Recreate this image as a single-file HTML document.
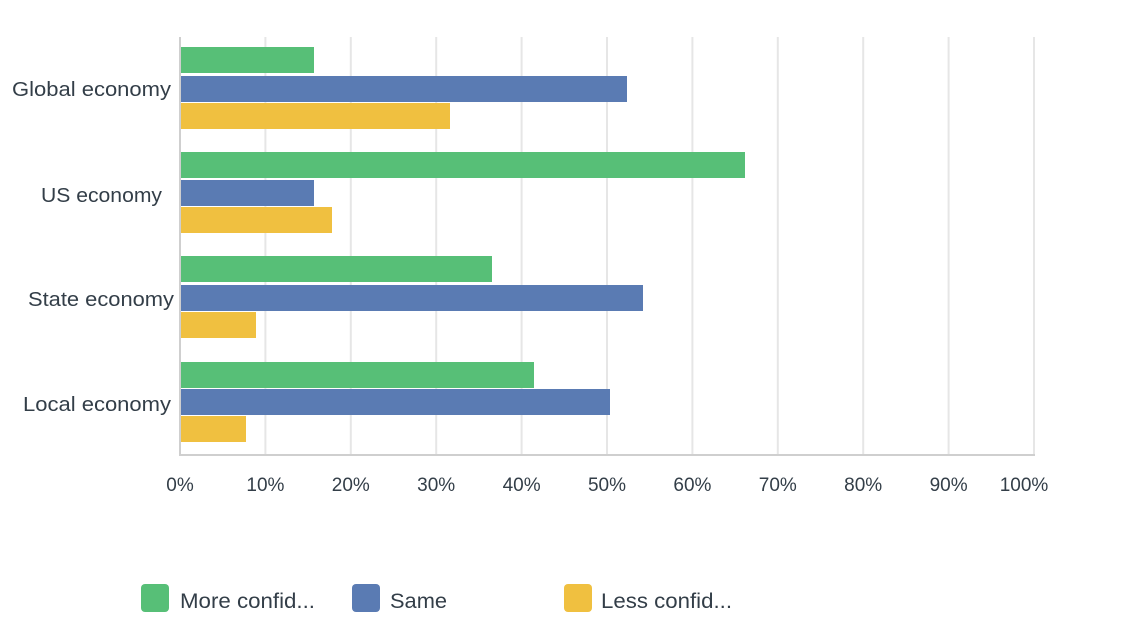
<!DOCTYPE html>
<html><head><style>
body{margin:0;background:#fff;}
svg text{font-family:"Liberation Sans",sans-serif;fill:#333e48;}
</style></head><body>
<svg width="1128" height="636" xmlns="http://www.w3.org/2000/svg">
<g stroke="#e6e6e6" stroke-width="2">
<line x1="265.4" y1="37" x2="265.4" y2="455"/><line x1="350.8" y1="37" x2="350.8" y2="455"/><line x1="436.2" y1="37" x2="436.2" y2="455"/><line x1="521.6" y1="37" x2="521.6" y2="455"/><line x1="607" y1="37" x2="607" y2="455"/><line x1="692.4" y1="37" x2="692.4" y2="455"/><line x1="777.8" y1="37" x2="777.8" y2="455"/><line x1="863.2" y1="37" x2="863.2" y2="455"/><line x1="948.6" y1="37" x2="948.6" y2="455"/><line x1="1034" y1="37" x2="1034" y2="455"/>
</g>
<g>
<rect x="180" y="47" width="134" height="26" fill="#57bf77"/>
<rect x="180" y="76" width="447" height="26" fill="#5a7bb3"/>
<rect x="180" y="103" width="270" height="26" fill="#f0c040"/>
<rect x="180" y="152" width="565" height="26" fill="#57bf77"/>
<rect x="180" y="180" width="134" height="26" fill="#5a7bb3"/>
<rect x="180" y="207" width="152" height="26" fill="#f0c040"/>
<rect x="180" y="256" width="312" height="26" fill="#57bf77"/>
<rect x="180" y="285" width="463" height="26" fill="#5a7bb3"/>
<rect x="180" y="312" width="76" height="26" fill="#f0c040"/>
<rect x="180" y="362" width="354" height="26" fill="#57bf77"/>
<rect x="180" y="389" width="430" height="26" fill="#5a7bb3"/>
<rect x="180" y="416" width="66" height="26" fill="#f0c040"/>
</g>
<line x1="180" y1="37" x2="180" y2="456" stroke="#cfcfcf" stroke-width="2"/>
<line x1="179" y1="455" x2="1035" y2="455" stroke="#cfcfcf" stroke-width="2"/>
<g font-size="20">
<text x="12" y="96" textLength="159" lengthAdjust="spacingAndGlyphs">Global economy</text>
<text x="41" y="202" textLength="121" lengthAdjust="spacingAndGlyphs">US economy</text>
<text x="28" y="306" textLength="146" lengthAdjust="spacingAndGlyphs">State economy</text>
<text x="23" y="411" textLength="148" lengthAdjust="spacingAndGlyphs">Local economy</text>
</g>
<g font-size="19" text-anchor="middle">
<text x="180" y="491">0%</text><text x="265.4" y="491">10%</text><text x="350.8" y="491">20%</text><text x="436.2" y="491">30%</text><text x="521.6" y="491">40%</text><text x="607" y="491">50%</text><text x="692.4" y="491">60%</text><text x="777.8" y="491">70%</text><text x="863.2" y="491">80%</text><text x="948.6" y="491">90%</text><text x="1024" y="491">100%</text>
</g>
<rect x="141" y="584" width="28" height="28" rx="4" fill="#57bf77"/>
<rect x="352" y="584" width="28" height="28" rx="4" fill="#5a7bb3"/>
<rect x="564" y="584" width="28" height="28" rx="4" fill="#f0c040"/>
<g font-size="21">
<text x="180" y="608" textLength="135" lengthAdjust="spacingAndGlyphs">More confid...</text>
<text x="390" y="608" textLength="57" lengthAdjust="spacingAndGlyphs">Same</text>
<text x="601" y="608" textLength="131" lengthAdjust="spacingAndGlyphs">Less confid...</text>
</g>
</svg>
</body></html>
